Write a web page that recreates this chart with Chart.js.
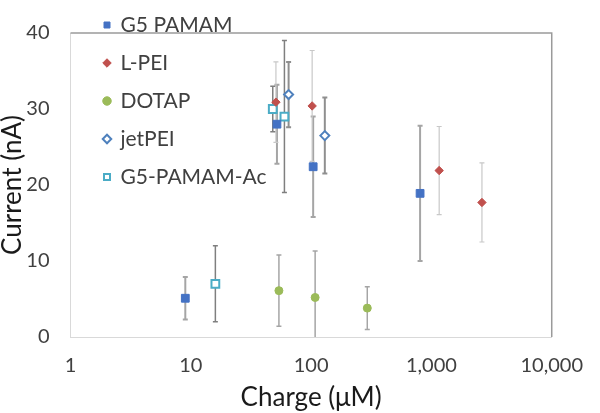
<!DOCTYPE html>
<html>
<head>
<meta charset="utf-8">
<title>Current vs charge</title>
<script src="https://cdn.jsdelivr.net/npm/chart.js@4.4.0/dist/chart.umd.min.js"></script>
<style>
  html, body { margin: 0; padding: 0; background: #fff; }
  #wrap { width: 600px; height: 413px; }
</style>
</head>
<body>
<div id="wrap"><canvas id="chart"></canvas></div>
<script>
// values: x = charge (uM), y = current (nA), err = +/- bar
const pamamX = [9, 52, 104, 805];
const pamamY = [5.1, 28.0, 22.4, 18.9];
const pamamErr = [2.8, 5.2, 6.6, 8.9];

const lpeiX = [51, 102, 1160, 2630];
const lpeiY = [30.9, 30.4, 21.9, 17.7];
const lpeiErr = [5.3, 7.3, 5.8, 5.2];

const dotapX = [54, 108, 293];
const dotapY = [6.1, 5.2, 3.8];
const dotapErr = [4.7, 6.1, 2.8];

const jetpeiX = [65, 130];
const jetpeiY = [31.9, 26.5];
const jetpeiErr = [4.3, 5.0];

const acX = [16, 48, 60];
const acY = [7.0, 30.0, 29.0];
const acErr = [5.0, 3.0, 10.0];

const xTicks = [1, 10, 100, 1000, 10000];
const yTicks = [0, 10, 20, 30, 40];

const FONT = 'Lato';
const TEXT = '#404040';

function points(xs, ys) {
  return xs.map((x, i) => ({ x: x, y: ys[i] }));
}

// vertical error bars + top/right frame, drawn under the markers
const errorBars = {
  id: 'errorBars',
  beforeDatasetsDraw(chart) {
    const { ctx, chartArea: a, scales } = chart;
    ctx.save();
    ctx.strokeStyle = '#9a9a9a';
    ctx.lineWidth = 1.5;
    ctx.beginPath();
    ctx.moveTo(a.left, a.top);
    ctx.lineTo(a.right, a.top);
    ctx.lineTo(a.right, a.bottom);
    ctx.stroke();

    ctx.beginPath();
    ctx.rect(a.left, a.top, a.right - a.left, a.bottom - a.top);
    ctx.clip();
    chart.data.datasets.forEach((ds) => {
      ctx.strokeStyle = ds.errColor;
      ctx.lineWidth = ds.errWidth;
      ds.data.forEach((p, i) => {
        const px = scales.x.getPixelForValue(p.x);
        const top = scales.y.getPixelForValue(p.y + ds.errors[i]);
        const bot = scales.y.getPixelForValue(p.y - ds.errors[i]);
        ctx.beginPath();
        ctx.moveTo(px, top);
        ctx.lineTo(px, bot);
        ctx.moveTo(px - 2.5, top);
        ctx.lineTo(px + 2.5, top);
        ctx.moveTo(px - 2.5, bot);
        ctx.lineTo(px + 2.5, bot);
        ctx.stroke();
      });
    });
    ctx.restore();
  },
  afterLayout(chart) {
    // Excel puts the legend a bit up and right of the plot corner
    chart.legend.left += 16.5;
    chart.legend.top -= 2.5;
  },
};

new Chart(document.getElementById('chart'), {
  type: 'scatter',
  data: {
    datasets: [
      {
        label: 'G5 PAMAM',
        data: points(pamamX, pamamY),
        errors: pamamErr,
        errColor: '#a5a5a5',
        errWidth: 2,
        pointStyle: 'rect',
        pointRadius: 5.5,
        backgroundColor: '#4472C4',
        borderColor: '#4472C4',
        borderWidth: 1,
      },
      {
        label: 'L-PEI',
        data: points(lpeiX, lpeiY),
        errors: lpeiErr,
        errColor: '#c8c8c8',
        errWidth: 1.2,
        pointStyle: 'rectRot',
        pointRadius: 4.2,
        backgroundColor: '#C0504D',
        borderColor: '#C0504D',
        borderWidth: 1,
      },
      {
        label: 'DOTAP',
        data: points(dotapX, dotapY),
        errors: dotapErr,
        errColor: '#a5a5a5',
        errWidth: 1.5,
        pointStyle: 'circle',
        pointRadius: 4,
        backgroundColor: '#9BBB59',
        borderColor: '#9BBB59',
        borderWidth: 1,
      },
      {
        label: 'jetPEI',
        data: points(jetpeiX, jetpeiY),
        errors: jetpeiErr,
        errColor: '#8f8f8f',
        errWidth: 2,
        pointStyle: 'rectRot',
        pointRadius: 4.5,
        backgroundColor: '#ffffff',
        borderColor: '#4F81BD',
        borderWidth: 2,
      },
      {
        label: 'G5-PAMAM-Ac',
        data: points(acX, acY),
        errors: acErr,
        errColor: '#7f7f7f',
        errWidth: 1.5,
        pointStyle: 'rect',
        pointRadius: 5.5,
        backgroundColor: '#ffffff',
        borderColor: '#4BACC6',
        borderWidth: 2,
      },
    ],
  },
  options: {
    responsive: true,
    maintainAspectRatio: false,
    animation: false,
    layout: { padding: { top: 8, right: 32 } },
    plugins: {
      tooltip: { enabled: false },
      legend: {
        position: 'chartArea',
        align: 'start',
        labels: {
          usePointStyle: true,
          boxWidth: 6,
          boxHeight: 6,
          padding: 17,
          color: TEXT,
          font: { family: FONT, size: 21 },
        },
      },
    },
    scales: {
      x: {
        type: 'logarithmic',
        min: 1,
        max: 10000,
        afterBuildTicks: (s) => { s.ticks = xTicks.map((v) => ({ value: v })); },
        afterFit: (s) => { s.height = 76; },
        grid: { display: false, drawTicks: false },
        border: { color: '#d9d9d9', width: 1 },
        ticks: {
          padding: 17,
          color: TEXT,
          font: { family: FONT, size: 20 },
          maxRotation: 0,
          callback: (v) => Number(v).toLocaleString('en-US'),
        },
        title: {
          display: true,
          text: 'Charge (μM)',
          color: '#1a1a1a',
          padding: 0,
          font: { family: FONT, size: 26 },
        },
      },
      y: {
        min: 0,
        max: 40,
        afterBuildTicks: (s) => { s.ticks = yTicks.map((v) => ({ value: v })); },
        afterFit: (s) => { s.width = 70.5; },
        grid: { display: false, drawTicks: false },
        border: { color: '#d9d9d9', width: 1 },
        ticks: {
          padding: 21,
          color: TEXT,
          font: { family: FONT, size: 20 },
        },
        title: {
          display: true,
          text: 'Current (nA)',
          color: '#1a1a1a',
          padding: 0,
          font: { family: FONT, size: 26, lineHeight: 1.0 },
        },
      },
    },
  },
  plugins: [errorBars],
});
</script>
</body>
</html>
